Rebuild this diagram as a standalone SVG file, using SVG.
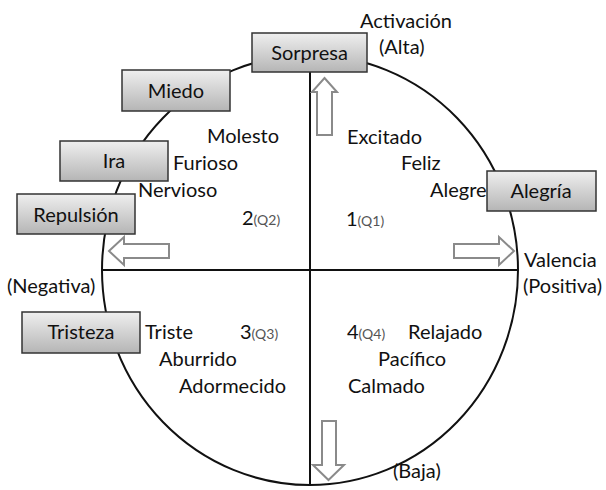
<svg xmlns="http://www.w3.org/2000/svg" width="606" height="490" viewBox="0 0 606 490">
<style>
text{font-family:Lato,"Open Sans","Liberation Sans",sans-serif;font-size:20px;fill:#111}
.c{text-anchor:middle}
.q{font-size:14px;fill:#555}
.box{fill:url(#g);stroke:#333;stroke-width:1.5}
.ax{stroke:#111;stroke-width:2;fill:none}
.arr{fill:#fff;stroke:#8a8a8a;stroke-width:2;stroke-linejoin:miter}
</style>
<defs>
<linearGradient id="g" x1="0" y1="0" x2="0" y2="1">
<stop offset="0" stop-color="#efefef"/>
<stop offset="1" stop-color="#b5b5b5"/>
</linearGradient>
</defs>
<g id="connectors">
<ellipse class="ax" cx="310" cy="270" rx="208" ry="215"/>
<line class="ax" x1="102" y1="270" x2="518" y2="270"/>
<line class="ax" x1="310" y1="55" x2="310" y2="485"/>
<path class="arr" d="M324.5,78 L337,92 L332,92 L332,135 L317,135 L317,92 L312,92 Z"/>
<path class="arr" d="M328.5,480 L344,465 L336,465 L336,421 L322,421 L322,465 L313,465 Z"/>
<path class="arr" d="M109,251 L124,237 L124,244 L169,244 L169,258 L124,258 L124,265 Z"/>
<path class="arr" d="M514,251 L499,237 L499,244 L454,244 L454,258 L499,258 L499,265 Z"/>
</g>
<g id="sorpresa"><rect class="box" x="252" y="33" width="115" height="39"/><text class="c" x="309.5" y="60">Sorpresa</text></g>
<g id="miedo"><rect class="box" x="122" y="70" width="108" height="41"/><text class="c" x="176" y="98">Miedo</text></g>
<g id="ira"><rect class="box" x="60" y="141" width="108" height="40"/><text class="c" x="114" y="168">Ira</text></g>
<g id="repulsion"><rect class="box" x="17" y="194" width="118" height="40"/><text class="c" x="76" y="222">Repulsión</text></g>
<g id="alegria"><rect class="box" x="487" y="171" width="109" height="40"/><text class="c" x="541" y="198">Alegría</text></g>
<g id="tristeza"><rect class="box" x="22" y="312" width="118" height="41"/><text class="c" x="81" y="339">Tristeza</text></g>
<g id="labels">
<text x="360" y="28">Activación</text>
<text x="379" y="54">(Alta)</text>
<text x="207" y="143">Molesto</text>
<text x="173" y="170">Furioso</text>
<text x="138" y="197">Nervioso</text>
<text x="242" y="225">2<tspan class="q">(Q2)</tspan></text>
<text x="347" y="144">Excitado</text>
<text x="401" y="170">Feliz</text>
<text x="430" y="197">Alegre</text>
<text x="346" y="226">1<tspan class="q">(Q1)</tspan></text>
<text x="524" y="267">Valencia</text>
<text x="523" y="293">(Positiva)</text>
<text x="7" y="293">(Negativa)</text>
<text x="145" y="339">Triste</text>
<text x="240" y="339">3<tspan class="q">(Q3)</tspan></text>
<text x="159" y="366">Aburrido</text>
<text x="179" y="393">Adormecido</text>
<text x="347" y="339">4<tspan class="q">(Q4)</tspan></text>
<text x="408" y="339">Relajado</text>
<text x="378" y="366">Pacífico</text>
<text x="348" y="393">Calmado</text>
<text x="393" y="478">(Baja)</text>
</g>
</svg>
